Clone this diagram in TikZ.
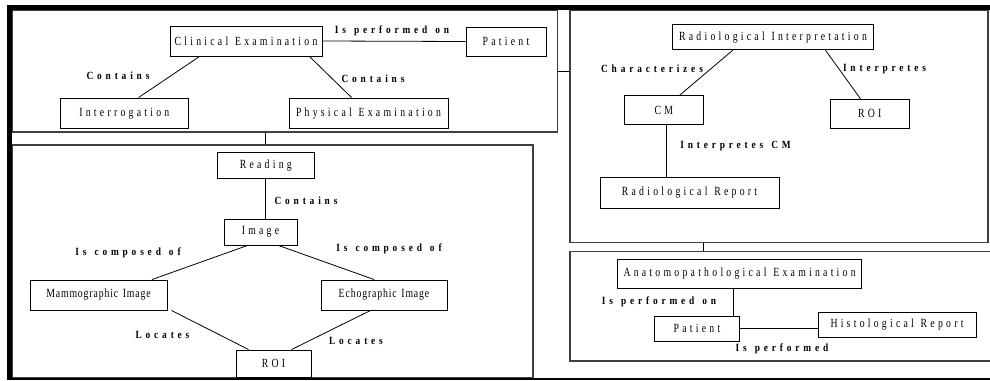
\documentclass[tikz,border=0pt]{standalone}
\usepackage{fontspec}
\setmainfont{Liberation Serif}
\newfontfamily\boxfont[FakeStretch=0.78,LetterSpace=26,WordSpace=1.2]{Liberation Serif}
\newfontfamily\tightfont[FakeStretch=0.78,LetterSpace=7,WordSpace=1.4]{Liberation Serif}
\newfontfamily\relfont[FakeStretch=0.85,LetterSpace=35,WordSpace=1.3]{Liberation Serif}
\begin{document}
\begin{tikzpicture}[x=1pt,y=-1pt,
  box/.style={draw,line width=0.9pt,inner sep=0pt,font=\boxfont\fontsize{12.5}{14}\selectfont},
  tightbox/.style={box,font=\tightfont\fontsize{12.5}{14}\selectfont},
  frame/.style={draw=black!75,line width=1.3pt,inner sep=0pt},
  rel/.style={inner sep=0pt,font=\relfont\bfseries\fontsize{11}{13}\selectfont},
  link/.style={line width=0.8pt}]
  \useasboundingbox (0,0) rectangle (990,380);
  % the four parts
  \node[frame,minimum width=545.5,minimum height=122] (fcl) at (284.75,71) {};
  \node[frame,minimum width=418,minimum height=232.5] (frad) at (779,126.25) {};
  \node[frame,minimum width=521,minimum height=232.5] (frd) at (272.5,261.25) {};
  \node[frame,minimum width=422,minimum height=109.3] (fana) at (781,306.35) {};
  % clinical examination
  \node[box,minimum width=152,minimum height=30] (ce) at (246,41) {Clinical Examination};
  \node[box,minimum width=80,minimum height=29] (pat) at (506,41.5) {Patient};
  \node[box,minimum width=128.6,minimum height=30.6] (itg) at (124.3,113.3) {Interrogation};
  \node[box,minimum width=159,minimum height=30.6] (pe) at (368.5,113.3) {Physical Examination};
  \draw[link] (ce.east) -- (pat.west);
  \draw[link] ([xshift=30]ce.south west) -- ([xshift=79]itg.north west);
  \draw[link] ([xshift=-13]ce.south east) -- ([xshift=63]pe.north west);
  \node[rel] (l1) at (392,31) {Is performed on};
  \node[rel] (l2) at (118,76) {Contains};
  \node[rel] (l3) at (373,79) {Contains};
  % reading
  \node[box,minimum width=96.4,minimum height=25.5] (rd) at (265.8,165.4) {Reading};
  \node[box,minimum width=73,minimum height=26] (img) at (260.5,232) {Image};
  \node[tightbox,minimum width=137,minimum height=30] (mam) at (98.5,295) {Mammographic Image};
  \node[tightbox,minimum width=126,minimum height=30] (eco) at (384,295) {Echographic Image};
  \node[box,minimum width=75,minimum height=27] (roia) at (273.5,363.5) {ROI};
  \draw[link] (rd.south) -- (rd.south |- img.north);
  \draw[link] ([xshift=24]img.south west) -- ([xshift=-15.5]mam.north east);
  \draw[link] ([xshift=-19]img.south east) -- ([xshift=53.6]eco.north west);
  \draw[link] ([xshift=4]mam.south east) -- ([xshift=13]roia.north west);
  \draw[link] ([xshift=50]eco.south west) -- ([xshift=-20]roia.north east);
  \node[rel] (l4) at (306,201) {Contains};
  \node[rel] (l5) at (128,253) {Is composed of};
  \node[rel] (l6) at (389,249) {Is composed of};
  \node[rel] (l7) at (162.5,335) {Locates};
  \node[rel] (l8) at (356,341) {Locates};
  % radiological interpretation
  \node[box,minimum width=200.6,minimum height=25] (ri) at (773,37.2) {Radiological Interpretation};
  \node[box,minimum width=79,minimum height=28.5] (cm) at (663.8,110) {CM};
  \node[box,minimum width=79.5,minimum height=29] (roib) at (869.7,113.8) {ROI};
  \node[box,minimum width=179,minimum height=31] (rr) at (689.5,193) {Radiological Report};
  \draw[link] ([xshift=60.6]ri.south west) -- ([xshift=55.7]cm.north west);
  \draw[link] ([xshift=-48.3]ri.south east) -- ([xshift=31]roib.north west);
  \draw[link] ([xshift=3]cm.south) -- ([xshift=3]cm.south |- rr.north);
  \node[rel] (l9) at (652,69) {Characterizes};
  \node[rel] (l10) at (884.5,69) {Interpretes};
  \node[rel] (l11) at (735.5,146) {Interpretes CM};
  % anatomopathological examination
  \node[box,minimum width=244,minimum height=29] (ana) at (739.6,273.8) {Anatomopathological Examination};
  \node[box,minimum width=84.3,minimum height=24.3] (patb) at (697,328.8) {Patient};
  \node[box,minimum width=158,minimum height=25] (hr) at (897,325) {Histological Report};
  \coordinate (pv) at ([xshift=-6]patb.north east);
  \draw[link] (pv) -- (pv |- ana.south);
  \draw[link] (patb.east) -- (patb.east -| hr.west);
  \node[rel] (l12) at (659,302) {Is performed on};
  \node[rel] (l13) at (782,349) {Is performed};
  % links between the parts
  \draw[link] (fcl.east) -- (fcl.east -| frad.west);
  \draw[link] (fcl.south -| rd.north) -- (frd.north -| rd.north);
  \draw[link] (frad.south -| cm.east) -- (fana.north -| cm.east);
  % page edges
  \fill (7,5) rectangle (990,10);
  \fill (7,5) rectangle (12,380);
  \fill (7,378) rectangle (990,380);
\end{tikzpicture}
\end{document}
